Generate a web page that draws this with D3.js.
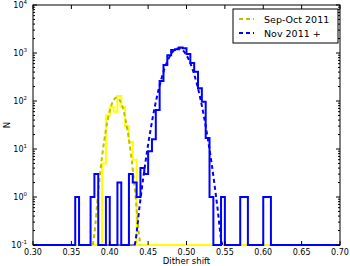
<!DOCTYPE html>
<html>
<head>
<meta charset="utf-8">
<script src="https://cdn.jsdelivr.net/npm/d3@7"></script>
<style>
body { margin: 0; background: #fff; }
text { font-family: "DejaVu Sans", sans-serif; }
</style>
</head>
<body>
<div id="chart"></div>
<script>
// histogram bins (left edge), width 0.005
var binWidth = 0.005;
var sepBins   = [0.390, 0.395, 0.400, 0.405, 0.410, 0.415, 0.420, 0.425, 0.430];
var sepCounts = [5, 50, 75, 60, 127, 75, 30, 14, 6];

var novBins   = [0.355, 0.375, 0.380, 0.395, 0.410, 0.425, 0.430, 0.435, 0.440, 0.445,
                 0.450, 0.455, 0.460, 0.465, 0.470, 0.475, 0.480, 0.485, 0.490, 0.495,
                 0.500, 0.505, 0.510, 0.515, 0.520, 0.525, 0.530, 0.545, 0.570, 0.575,
                 0.600, 0.605];
var novCounts = [1, 1, 3, 1, 2, 3, 2, 1, 4, 3,
                 9, 16, 65, 260, 560, 900, 1150, 1200, 1300, 1250,
                 950, 620, 405, 184, 97, 17, 1, 1, 1, 1,
                 1, 1];

// dashed fit curves
var sepFitX = [0.378, 0.380, 0.385, 0.390, 0.395, 0.400, 0.405, 0.409, 0.413, 0.418, 0.423, 0.428, 0.433, 0.438, 0.440];
var sepFitN = [0.06, 0.17, 1.3, 7, 25, 63, 104, 118, 104, 63, 25, 7, 1.3, 0.17, 0.06];

var novFitX = [0.4325, 0.4335, 0.4385, 0.4435, 0.4485, 0.4535, 0.4585, 0.4635, 0.4685, 0.4735,
               0.4785, 0.4835, 0.4895, 0.4955, 0.5005, 0.5055, 0.5105, 0.5155, 0.5205, 0.5255,
               0.5305, 0.5355, 0.5405, 0.5455, 0.5465];
var novFitN = [0.08, 0.12, 0.57, 2.4, 8.7, 27, 73, 169, 339, 586,
               874, 1124, 1250, 1124, 874, 586, 339, 169, 73, 27,
               8.7, 2.4, 0.57, 0.12, 0.08];

var xTicks = [0.30, 0.35, 0.40, 0.45, 0.50, 0.55, 0.60, 0.65, 0.70];
var yExps  = [-1, 0, 1, 2, 3, 4];
var seriesNames = ["Sep-Oct 2011", "Nov 2011 +"];

var W = 350, H = 266;
var L = 33, R = 340, T = 5, B = 245;

var x = d3.scaleLinear().domain([0.30, 0.70]).range([L, R]);
var y = d3.scaleLog().domain([0.1, 1e4]).range([B, T]).clamp(true);

var svg = d3.select("#chart").append("svg")
    .attr("width", W).attr("height", H);

svg.append("defs").append("clipPath").attr("id", "clip")
    .append("rect").attr("x", L).attr("y", T).attr("width", R - L).attr("height", B - T + 1);

// frame
svg.append("rect").attr("x", L).attr("y", T).attr("width", R - L).attr("height", B - T)
    .attr("fill", "none").attr("stroke", "black").attr("stroke-width", 1);

function stepPoints(bins, counts) {
    var lookup = {};
    bins.forEach(function(b, i) { lookup[Math.round(b * 1000)] = counts[i]; });
    var pts = [];
    var n = Math.round((0.70 - 0.30) / binWidth);
    for (var i = 0; i < n; ++i) {
        var lo = 0.30 + i * binWidth;
        var c = lookup[Math.round(lo * 1000)] || 0.1;
        pts.push([lo, c]);
    }
    pts.push([0.70, pts[pts.length - 1][1]]);
    return pts;
}

var step = d3.line()
    .x(function(d) { return x(d[0]); })
    .y(function(d) { return y(d[1]); })
    .curve(d3.curveStepAfter);

var smooth = d3.line()
    .x(function(d) { return x(d[0]); })
    .y(function(d) { return y(d[1]); })
    .curve(d3.curveMonotoneX);

var plot = svg.append("g").attr("clip-path", "url(#clip)");

plot.append("path").datum(stepPoints(sepBins, sepCounts))
    .attr("d", step).attr("fill", "none").attr("stroke", "#ffff00").attr("stroke-width", 2);
plot.append("path").datum(sepFitX.map(function(v, i) { return [v, sepFitN[i]]; }))
    .attr("d", smooth).attr("fill", "none").attr("stroke", "#bfbf00")
    .attr("stroke-width", 2).attr("stroke-dasharray", "4,3");
plot.append("path").datum(stepPoints(novBins, novCounts))
    .attr("d", step).attr("fill", "none").attr("stroke", "#0000ff").attr("stroke-width", 2);
plot.append("path").datum(novFitX.map(function(v, i) { return [v, novFitN[i]]; }))
    .attr("d", smooth).attr("fill", "none").attr("stroke", "#0000ff")
    .attr("stroke-width", 2).attr("stroke-dasharray", "4,3");

// x ticks (inward, bottom and top)
var xg = svg.append("g");
xTicks.forEach(function(t) {
    xg.append("line").attr("x1", x(t)).attr("x2", x(t)).attr("y1", B).attr("y2", B - 4).attr("stroke", "black");
    xg.append("line").attr("x1", x(t)).attr("x2", x(t)).attr("y1", T).attr("y2", T + 4).attr("stroke", "black");
    xg.append("text").attr("x", x(t)).attr("y", B + 10).attr("text-anchor", "middle")
        .attr("font-size", 8).text(d3.format(".2f")(t));
});

// y ticks (log, major + minor)
var yg = svg.append("g");
yExps.forEach(function(e) {
    var v = Math.pow(10, e);
    var yy = y(v);
    yg.append("line").attr("x1", L).attr("x2", L + 4).attr("y1", yy).attr("y2", yy).attr("stroke", "black");
    yg.append("line").attr("x1", R).attr("x2", R - 4).attr("y1", yy).attr("y2", yy).attr("stroke", "black");
    var lbl = yg.append("text").attr("x", 27).attr("y", yy + 3).attr("text-anchor", "end").attr("font-size", 8);
    lbl.append("tspan").text("10");
    lbl.append("tspan").attr("dy", -4).attr("font-size", 5.5).text(e < 0 ? "-" + Math.abs(e) : e);
    if (e < 4) {
        for (var m = 2; m <= 9; ++m) {
            var ym = y(m * v);
            yg.append("line").attr("x1", L).attr("x2", L + 2).attr("y1", ym).attr("y2", ym).attr("stroke", "black");
            yg.append("line").attr("x1", R).attr("x2", R - 2).attr("y1", ym).attr("y2", ym).attr("stroke", "black");
        }
    }
});

// axis titles
svg.append("text").attr("x", (L + R) / 2).attr("y", 264).attr("text-anchor", "middle")
    .attr("font-size", 8.5).text("Dither shift");
svg.append("text").attr("transform", "translate(10," + ((T + B) / 2) + ") rotate(-90)")
    .attr("text-anchor", "middle").attr("font-size", 8.5).text("N");

// legend
var lg = svg.append("g");
lg.append("rect").attr("x", 233).attr("y", 9).attr("width", 105).attr("height", 34)
    .attr("fill", "white").attr("stroke", "black").attr("stroke-width", 1);
var legColors = ["#bfbf00", "#0000ff"];
seriesNames.forEach(function(name, i) {
    var ly = 19 + i * 14;
    lg.append("line").attr("x1", 239).attr("x2", 254).attr("y1", ly).attr("y2", ly)
        .attr("stroke", legColors[i]).attr("stroke-width", 2).attr("stroke-dasharray", "4,3");
    lg.append("text").attr("x", 264).attr("y", ly + 3.5).attr("font-size", 9.5).text(name);
});
</script>
</body>
</html>
